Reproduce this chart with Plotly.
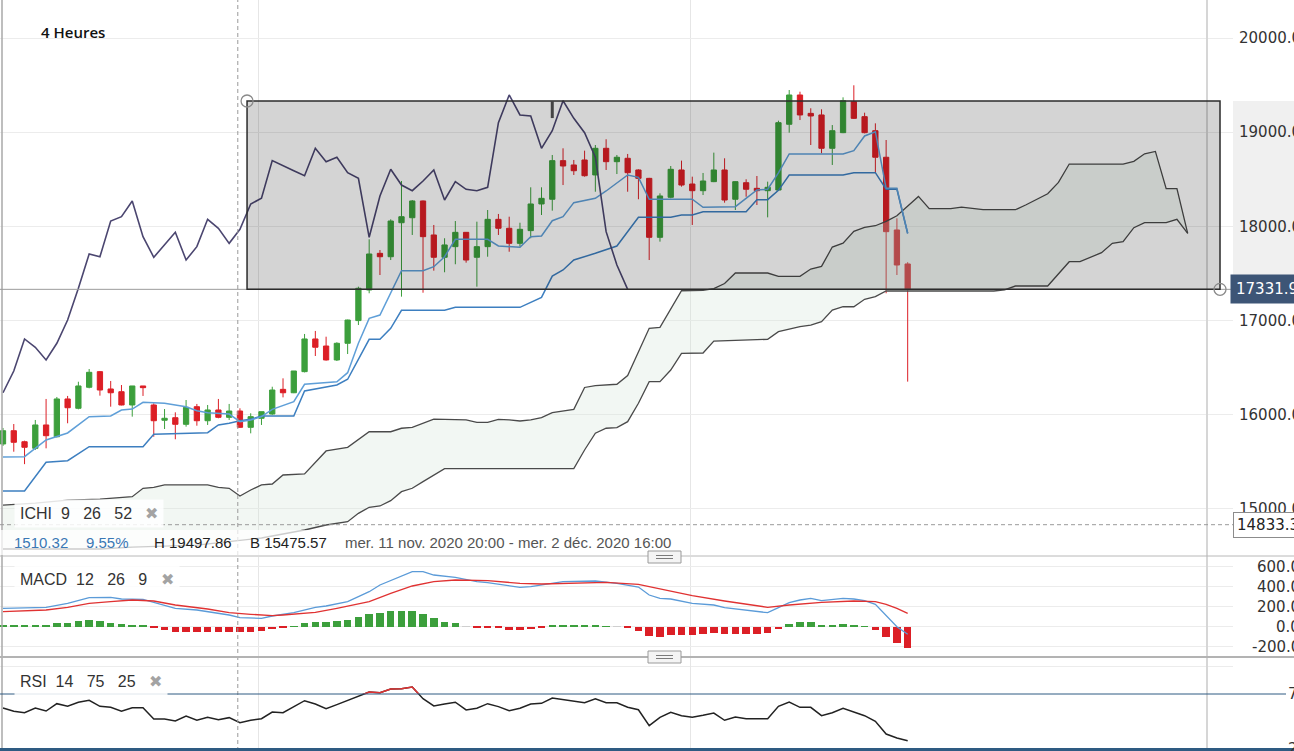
import plotly.graph_objects as go

W, H = 1294, 751

# ---- price data, 4h candles (index 0..84) ----
opens = [15690, 15831, 15714, 15644, 15892, 15767, 16168, 16069, 16292, 16458,
         16274, 16245, 16104, 16306, 16104, 15942, 15969, 15899, 16086, 15937,
         16051, 15973, 16040, 15867, 15963, 16008, 16270, 16234, 16458, 16805,
         16730, 16582, 16759, 17000, 17325, 17714, 17678, 18039, 18092, 18270,
         17909, 17672, 17785, 17937, 17672, 17785, 18075, 17980, 17820, 17955,
         18238, 18288, 18698, 18652, 18705, 18546, 18829, 18687, 18723, 18599,
         18510, 17884, 18309, 18599, 18450, 18379, 18475, 18599, 18288, 18464,
         18404, 18379, 18386, 19084, 19395, 19200, 19183, 18829, 18995, 19324,
         19165, 19016, 18734, 17962, 17601]
highs = [15860, 15902, 15725, 15945, 16168, 16189, 16200, 16351, 16486, 16465,
         16359, 16316, 16306, 16306, 16122, 16061, 16026, 16157, 16115, 16104,
         16168, 16115, 16069, 16016, 16033, 16298, 16387, 16465, 16858, 16890,
         16829, 16770, 17010, 17360, 17863, 17749, 18075, 18482, 18280, 18275,
         18015, 17874, 18057, 17940, 18050, 18174, 18132, 18103, 18039, 18415,
         18415, 18758, 18829, 18705, 18804, 18864, 18925, 18758, 18769, 18606,
         18515, 18351, 18641, 18698, 18528, 18567, 18783, 18723, 18480, 18500,
         18535, 18475, 19122, 19448, 19430, 19254, 19243, 19076, 19370, 19498,
         19207, 19094, 18917, 18086, 17620]
lows = [15669, 15608, 15476, 15626, 15644, 15760, 15910, 16058, 16281, 16203,
        16086, 16100, 15980, 16200, 15767, 15849, 15740, 15874, 15884, 15892,
        15963, 15945, 15860, 15803, 15892, 16000, 16185, 16230, 16450, 16624,
        16575, 16571, 16645, 16953, 17290, 17484, 17643, 17254, 17909, 17296,
        17530, 17513, 17598, 17615, 17360, 17678, 17909, 17731, 17785, 17874,
        18121, 18167, 18439, 18546, 18528, 18368, 18599, 18556, 18368, 18288,
        17643, 17838, 18298, 18422, 18015, 18333, 18470, 18252, 18174, 18315,
        18227, 18096, 18380, 18995, 19129, 18864, 18776, 18652, 18990, 19140,
        18988, 18570, 17290, 17484, 16352]
closes = [15831, 15708, 15655, 15892, 15778, 16168, 16075, 16306, 16451, 16263,
          16234, 16104, 16306, 16288, 15937, 15963, 15899, 16079, 15937, 16051,
          15973, 16040, 15867, 15980, 16033, 16263, 16234, 16465, 16805, 16717,
          16582, 16759, 17006, 17343, 17707, 17678, 18057, 18103, 18270, 17891,
          17672, 17803, 17937, 17643, 17785, 18075, 17980, 17820, 17969, 18238,
          18298, 18698, 18641, 18591, 18538, 18829, 18687, 18734, 18570, 18510,
          17884, 18323, 18606, 18439, 18379, 18482, 18599, 18280, 18475, 18394,
          18379, 18415, 19101, 19395, 19183, 19172, 18829, 19016, 19334, 19147,
          18995, 18734, 17944, 17590, 17332]

# ---- Ichimoku lines (candle index, price) ----
tenkan_idx = [0, 2, 4, 6, 8, 10, 11, 12, 13, 15, 17, 18, 19, 21, 22, 23, 24, 25, 27, 28,
              31, 32, 33, 34, 35, 36, 37, 39, 40, 41, 42, 45, 46, 48, 49, 50, 51, 52, 53, 55,
              56, 58, 59, 60, 64, 65, 68, 70, 71, 72, 73, 78, 79, 80, 81, 82, 83, 84]
tenkan_val = [15552, 15555, 15732, 15807, 15980, 15987, 16051, 16061, 16133, 16122,
              16086, 16043, 16022, 16008, 15927, 15945, 15980, 16058, 16139, 16324,
              16351, 16447, 16759, 17024, 17059, 17290, 17530, 17530, 17572, 17678,
              17863, 17863, 17792, 17778, 17891, 17898, 18060, 18103, 18252, 18298,
              18376, 18546, 18521, 18288, 18288, 18203, 18209, 18386, 18394, 18568,
              18769, 18769, 18804, 18960, 19005, 18404, 18404, 17927]
kijun_idx = [0, 2, 4, 6, 8, 13, 14, 19, 20, 21, 22, 23, 24, 27, 28, 31, 32, 34, 35, 36,
             37, 41, 42, 48, 50, 51, 52, 53, 55, 57, 59, 62, 63, 64, 65, 69, 70, 71, 72, 73,
             78, 79, 81, 82, 83, 84]
kijun_val = [15191, 15191, 15496, 15513, 15661, 15661, 15793, 15810, 15892, 15910,
             15937, 15952, 15987, 15987, 16253, 16316, 16377, 16801, 16801, 16918,
             17109, 17109, 17141, 17141, 17247, 17473, 17537, 17643, 17714, 17792,
             18097, 18097, 18121, 18121, 18156, 18156, 18284, 18284, 18383, 18545,
             18545, 18570, 18570, 18394, 18394, 17925]
senkou_a_idx = [0, 3, 6, 9, 12, 13, 14, 15, 19, 20, 21, 22, 23, 24, 25, 26, 28, 30, 32, 34,
                36, 37, 38, 40, 43, 44, 45, 46, 47, 48, 49, 50, 51, 53, 54, 55, 57, 58, 60, 61,
                63, 64, 65, 66, 67, 68, 71, 72, 74, 75, 76, 77, 78, 79, 80, 81, 82, 83, 84, 85,
                86, 88, 89, 91, 94, 95, 97, 98, 99, 104, 105, 106, 107, 108, 109, 110]
senkou_a_val = [15042, 15063, 15095, 15105, 15130, 15220, 15230, 15255, 15255, 15230,
                15220, 15138, 15202, 15255, 15265, 15361, 15372, 15616, 15655, 15820,
                15820, 15857, 15867, 15955, 15945, 15920, 15920, 15952, 15945, 15934,
                15945, 15969, 16022, 16058, 16290, 16309, 16324, 16417, 16918, 16929,
                17317, 17320, 17320, 17340, 17394, 17505, 17505, 17469, 17469, 17547,
                17575, 17781, 17823, 17947, 17989, 18007, 18053, 18113, 18212, 18318,
                18188, 18188, 18205, 18177, 18177, 18230, 18347, 18467, 18662, 18662,
                18690, 18771, 18796, 18400, 18400, 17925]
senkou_b_idx = [0, 9, 12, 18, 24, 28, 30, 32, 33, 34, 35, 36, 37, 38, 39, 40, 41, 53, 54, 55,
                56, 57, 58, 59, 60, 61, 62, 63, 65, 66, 71, 72, 74, 75, 76, 77, 78, 79, 80, 81,
                82, 92, 93, 94, 97, 99, 100, 102, 103, 104, 105, 106, 108, 109, 110]
senkou_b_val = [14575, 14575, 14596, 14617, 14692, 14777, 14830, 14865, 14954, 15018,
                15032, 15088, 15184, 15220, 15290, 15361, 15428, 15428, 15626, 15804,
                15857, 15863, 15927, 16122, 16351, 16351, 16475, 16653, 16656, 16783,
                16801, 16882, 16935, 16953, 16988, 17112, 17147, 17147, 17226, 17254,
                17314, 17314, 17325, 17367, 17367, 17625, 17625, 17721, 17820, 17838,
                17986, 18039, 18039, 18075, 17925]

# ---- MACD 12 26 9 ----
macd_idx = [0, 4, 6, 8, 10, 11, 13, 15, 16, 18, 20, 21, 22, 24, 25, 27, 29, 30, 32, 34,
            35, 37, 38, 39, 40, 42, 44, 45, 48, 49, 52, 55, 57, 59, 60, 61, 62, 64, 66, 67,
            69, 71, 72, 73, 74, 75, 76, 78, 79, 80, 81, 82, 83, 84]
macd_val = [184, 194, 234, 290, 294, 277, 274, 217, 184, 167, 134, 117, 90, 84, 107, 140,
            194, 207, 250, 350, 417, 507, 550, 550, 517, 494, 450, 440, 394, 400, 450, 457,
            434, 397, 317, 284, 277, 234, 217, 190, 167, 140, 190, 240, 267, 284, 260, 284,
            277, 260, 224, 117, 0, -76]
signal_idx = [0, 4, 6, 8, 10, 12, 14, 16, 19, 21, 23, 25, 26, 29, 31, 34, 36, 38, 40, 42,
              45, 48, 50, 54, 56, 59, 61, 64, 67, 71, 73, 76, 79, 81, 82, 83, 84]
signal_val = [150, 167, 194, 234, 250, 267, 257, 217, 177, 140, 124, 110, 117, 144, 184,
              250, 334, 407, 450, 467, 460, 434, 427, 440, 444, 424, 377, 310, 257, 194,
              217, 244, 257, 250, 224, 184, 134]
hist = [10, 12, 12, 12, 14, 33, 40, 60, 67, 57, 40, 23, 17, 17, -17, -33, -50, -50, -50, -50,
        -50, -50, -50, -50, -43, -27, -7, 7, 40, 50, 50, 60, 67, 100, 123, 133, 157, 157, 157, 123,
        83, 50, 33, 3, -12, -12, -12, -33, -33, -27, -12, 12, 14, 12, 12, 14, 5, -3, -17, -40,
        -93, -100, -83, -83, -83, -77, -67, -77, -73, -73, -73, -67, -20, 23, 43, 43, 20, 13, 23, 17,
        5, -30, -100, -160, -210]

# ---- RSI 14 ----
rsi = [62.3, 59.3, 58.0, 62.3, 59.5, 66.2, 63.8, 67.5, 69.3, 63.8,
       62.9, 59.3, 62.5, 62.5, 52.3, 52.3, 50.5, 55.0, 51.1, 53.8,
       51.6, 53.5, 48.9, 51.1, 52.5, 58.6, 58.0, 63.2, 68.9, 65.9,
       61.6, 65.3, 68.9, 73.2, 76.8, 76.2, 79.5, 79.8, 81.4, 70.7,
       64.1, 65.9, 67.5, 60.5, 62.0, 66.2, 63.5, 59.8, 62.0, 65.9,
       66.5, 71.4, 69.8, 68.4, 67.1, 70.7, 67.1, 67.1, 62.9, 60.7,
       46.2, 53.8, 58.4, 55.3, 53.8, 55.6, 57.7, 51.1, 54.1, 52.5,
       52.3, 52.5, 63.8, 67.7, 62.9, 62.9, 55.3, 58.0, 62.0, 58.6,
       55.3, 50.2, 38.6, 35.0, 32.5]

price_ticks = [15000, 16000, 17000, 18000, 19000, 20000]
macd_ticks = [600, 400, 200, 0, -200]
last_price = 17331.9
cross_price = 14833.3
cross_index = 21.8
box_top = 19331
box_start, box_end = 22.66, 113.0
day_lines = [23.68, 63.8]
CHIKOU_SHIFT = 26

GREEN = '#3c9f3c'
RED = '#dc1f26'
idx = list(range(len(closes)))


def px(x):
    return x / W


def py(y):
    return 1 - y / H


XR = [-3 / 10.77, 1230 / 10.77]
XDOM = [0, px(1233)]

fig = go.Figure()

fig.add_trace(go.Candlestick(
    x=idx, open=opens, high=highs, low=lows, close=closes,
    increasing=dict(line=dict(color=GREEN, width=1), fillcolor=GREEN),
    decreasing=dict(line=dict(color=RED, width=1), fillcolor=RED),
    whiskerwidth=0, showlegend=False, hoverinfo='skip', xaxis='x', yaxis='y'))

# cloud: Senkou B then A filled to it
fig.add_trace(go.Scatter(x=senkou_b_idx, y=senkou_b_val, mode='lines',
                         line=dict(color='#4a4a4a', width=1.3), showlegend=False,
                         hoverinfo='skip', xaxis='x', yaxis='y'))
fig.add_trace(go.Scatter(x=senkou_a_idx, y=senkou_a_val, mode='lines',
                         line=dict(color='#4a4a4a', width=1.3), fill='tonexty',
                         fillcolor='rgba(212,228,215,0.3)', showlegend=False,
                         hoverinfo='skip', xaxis='x', yaxis='y'))
fig.add_trace(go.Scatter(x=kijun_idx, y=kijun_val, mode='lines',
                         line=dict(color='#3d7fc0', width=1.5), showlegend=False,
                         hoverinfo='skip', xaxis='x', yaxis='y'))
fig.add_trace(go.Scatter(x=tenkan_idx, y=tenkan_val, mode='lines',
                         line=dict(color='#5f9fd8', width=1.5), showlegend=False,
                         hoverinfo='skip', xaxis='x', yaxis='y'))
fig.add_trace(go.Scatter(x=[i - CHIKOU_SHIFT for i in idx[CHIKOU_SHIFT:]],
                         y=closes[CHIKOU_SHIFT:], mode='lines',
                         line=dict(color='#4b4670', width=1.6), showlegend=False,
                         hoverinfo='skip', xaxis='x', yaxis='y'))

# MACD panel
bar_colors = ['#cfcfcf' if abs(v) <= 3 else (GREEN if v > 0 else RED) for v in hist]
fig.add_trace(go.Bar(x=idx, y=hist, width=0.7, marker=dict(color=bar_colors, line=dict(width=0)),
                     showlegend=False, hoverinfo='skip', xaxis='x2', yaxis='y2'))
fig.add_trace(go.Scatter(x=macd_idx, y=macd_val, mode='lines', line=dict(color='#5b9bd8', width=1.3),
                         showlegend=False, hoverinfo='skip', xaxis='x2', yaxis='y2'))
fig.add_trace(go.Scatter(x=signal_idx, y=signal_val, mode='lines', line=dict(color='#e03232', width=1.3),
                         showlegend=False, hoverinfo='skip', xaxis='x2', yaxis='y2'))

# RSI panel (black line, red where above 75 via clipped overlay subplot)
fig.add_trace(go.Scatter(x=idx, y=rsi, mode='lines', line=dict(color='#222222', width=1.5),
                         showlegend=False, hoverinfo='skip', xaxis='x3', yaxis='y3'))
fig.add_trace(go.Scatter(x=idx, y=rsi, mode='lines', line=dict(color='#e03232', width=1.5),
                         showlegend=False, hoverinfo='skip', xaxis='x3', yaxis='y4'))

xcommon = dict(domain=XDOM, range=XR, showticklabels=False, ticks='', tickvals=day_lines,
               showgrid=True, gridcolor='#e6e6e6', zeroline=False, showline=False,
               fixedrange=True, automargin=False)
ycommon = dict(zeroline=False, fixedrange=True, automargin=False, side='right')

fig.update_layout(
    width=W, height=H, margin=dict(l=0, r=0, t=0, b=0, autoexpand=False),
    paper_bgcolor='white', plot_bgcolor='rgba(0,0,0,0)',
    showlegend=False, bargap=0,
    xaxis=dict(**xcommon, anchor='y', rangeslider=dict(visible=False)),
    xaxis2=dict(**xcommon, anchor='y2', matches='x'),
    xaxis3=dict(**xcommon, anchor='y3', matches='x'),
    yaxis=dict(**ycommon, domain=[py(555), 1], range=[14511.5, 20403.4], anchor='x',
               tickvals=price_ticks, ticktext=[f'{v:.1f}' for v in price_ticks],
               ticks='outside', ticklen=2, tickcolor='rgba(0,0,0,0)',
               tickfont=dict(family='DejaVu Sans', size=15, color='#333333'),
               showgrid=True, gridcolor='#ececec', showline=False),
    yaxis2=dict(**ycommon, domain=[py(656), py(557)], range=[-293, 697], anchor='x2',
                tickvals=macd_ticks, showticklabels=False, ticks='',
                showgrid=True, gridcolor='#ececec'),
    yaxis3=dict(**ycommon, domain=[py(749), py(658)], range=[25, 107.73], anchor='x3',
                tickvals=[100], showticklabels=False, ticks='',
                showgrid=True, gridcolor='#ececec'),
    yaxis4=dict(**ycommon, domain=[py(694), py(658)], range=[75, 107.73], anchor='x3',
                showticklabels=False, ticks='', showgrid=False),
)

shapes = []
# price axis highlight band for the box
shapes.append(dict(type='rect', xref='paper', yref='y', x0=px(1233), x1=1, y0=last_price, y1=box_top,
                   fillcolor='#f0f0f0', line=dict(width=0), layer='below'))
# left border and axis separator
shapes.append(dict(type='line', xref='paper', yref='paper', x0=px(2), x1=px(2), y0=0, y1=1,
                   line=dict(color='#a8a8a8', width=1.5)))
shapes.append(dict(type='line', xref='paper', yref='paper', x0=px(1207), x1=px(1207), y0=0, y1=1,
                   line=dict(color='#d6d6d6', width=2)))
# last price line
shapes.append(dict(type='line', xref='x', yref='y', x0=XR[0], x1=XR[1], y0=last_price, y1=last_price,
                   line=dict(color='#9c9c9c', width=1)))
# crosshair
shapes.append(dict(type='line', xref='x', yref='paper', x0=cross_index, x1=cross_index, y0=0, y1=1,
                   line=dict(color='#9a9a9a', width=1, dash='4px,3px')))
shapes.append(dict(type='line', xref='x', yref='y', x0=XR[0], x1=XR[1], y0=cross_price, y1=cross_price,
                   line=dict(color='#9a9a9a', width=1, dash='4px,3px')))
# drawn rectangle
shapes.append(dict(type='rect', xref='x', yref='y', x0=box_start, x1=box_end, y0=last_price, y1=box_top,
                   fillcolor='rgba(0,0,0,0.17)', line=dict(color='#2b2b2b', width=1.5), layer='above'))
shapes.append(dict(type='line', xref='x', yref='y', x0=51, x1=51, y0=box_top, y1=19150,
                   line=dict(color='#444444', width=3), layer='above'))
for cx, cy in [(box_start, box_top), (box_end, last_price)]:
    shapes.append(dict(type='circle', xref='x', yref='y', xsizemode='pixel', ysizemode='pixel',
                       xanchor=cx, yanchor=cy, x0=-6, x1=6, y0=-6, y1=6,
                       line=dict(color='#8a8a8a', width=1.3), layer='above'))
# RSI 75 level and bottom band
shapes.append(dict(type='line', xref='paper', yref='y3', x0=0, x1=px(1286), y0=75, y1=75,
                   line=dict(color='#2e5b82', width=1)))
shapes.append(dict(type='rect', xref='paper', yref='paper', x0=0, x1=1, y0=0, y1=py(748),
                   fillcolor='#2e5b82', line=dict(width=0), layer='above'))
# info bar background
shapes.append(dict(type='rect', xref='paper', yref='paper', x0=0, x1=px(690), y0=py(555), y1=py(530),
                   fillcolor='rgba(255,255,255,0.72)', line=dict(width=0), layer='above'))
# panel separators and drag handles
shapes.append(dict(type='line', xref='paper', yref='paper', x0=0, x1=1, y0=py(556), y1=py(556),
                   line=dict(color='#b8b8b8', width=1), layer='above'))
shapes.append(dict(type='line', xref='paper', yref='paper', x0=0, x1=1, y0=py(657), y1=py(657),
                   line=dict(color='#b3b3b3', width=2), layer='above'))
for top in (551, 651):
    shapes.append(dict(type='rect', xref='paper', yref='paper', x0=px(648), x1=px(681),
                       y0=py(top + 12), y1=py(top), fillcolor='#f4f4f4',
                       line=dict(color='#9a9a9a', width=1), layer='above'))
    for dy in (4.5, 7.5):
        shapes.append(dict(type='line', xref='paper', yref='paper', x0=px(656), x1=px(673),
                           y0=py(top + dy), y1=py(top + dy), line=dict(color='#7a7a7a', width=1),
                           layer='above'))
fig.update_layout(shapes=shapes)

NB = '\u00a0'
X_MARK = "<span style='color:#a3a3a3;font-size:16px'>✖</span>"
LBL = dict(family='Liberation Sans', size=16, color='#333333')
AXF = dict(family='DejaVu Sans', size=15, color='#333333')


def label(text, xp, yp, **kw):
    d = dict(text=text, xref='paper', yref='paper', x=px(xp), y=py(yp), xanchor='left',
             yanchor='middle', showarrow=False, font=kw.pop('font', LBL))
    d.update(kw)
    return d


ann = [
    label('4 Heures', 39, 32, font=dict(family='Open Sans', size=15, color='#111111', weight=600)),
    label(f'ICHI{NB*2}9{NB*3}26{NB*3}52{NB*3}' + X_MARK, 14, 513,
          bgcolor='rgba(255,255,255,0.85)', borderpad=5),
    label(f'MACD{NB*2}12{NB*3}26{NB*3}9{NB*3}' + X_MARK, 14, 579,
          bgcolor='rgba(255,255,255,0.85)', borderpad=5),
    label(f'RSI{NB*2}14{NB*3}75{NB*3}25{NB*3}' + X_MARK, 14, 681,
          bgcolor='rgba(255,255,255,0.85)', borderpad=5),
]
INFO = dict(family='Liberation Sans', size=15)
ann += [
    label('1510.32', 12, 542, font=dict(INFO, color='#3a78b5')),
    label('9.55%', 84, 542, font=dict(INFO, color='#3a78b5')),
    label('H 19497.86', 152, 542, font=dict(INFO, color='#222222')),
    label('B 15475.57', 248, 542, font=dict(INFO, color='#222222')),
    label('mer. 11 nov. 2020 20:00 - mer. 2 déc. 2020 16:00', 343, 542, font=dict(INFO, color='#555555')),
]
# price tags on the right axis
ann.append(dict(text=f'{last_price:.1f}', xref='paper', yref='y', x=px(1230), y=last_price,
                xanchor='left', yanchor='middle', showarrow=False, bgcolor='#3d5576', borderpad=5,
                font=dict(AXF, color='white')))
ann.append(dict(text=f'{cross_price:.1f}', xref='paper', yref='y', x=px(1233), y=cross_price,
                xanchor='left', yanchor='middle', showarrow=False, bgcolor='white',
                bordercolor='#8c8c8c', borderwidth=1, borderpad=3, font=dict(AXF, color='#222222')))
for v in macd_ticks:
    ann.append(dict(text=f'{v:.1f}', xref='paper', yref='y2', x=px(1302), y=v, xanchor='right',
                    yanchor='middle', showarrow=False, font=AXF))
for v in (75, 25):
    ann.append(dict(text=f'{v:.1f}', xref='paper', yref='y3', x=px(1286), y=v, xanchor='left',
                    yanchor='middle', showarrow=False, font=AXF))
fig.update_layout(annotations=ann)

# the page body has a default 8px margin; remove it so the chart sits at the window corner
fig.write_html("out.html", config={'displayModeBar': False},
               post_script="document.body.style.margin='0';")
